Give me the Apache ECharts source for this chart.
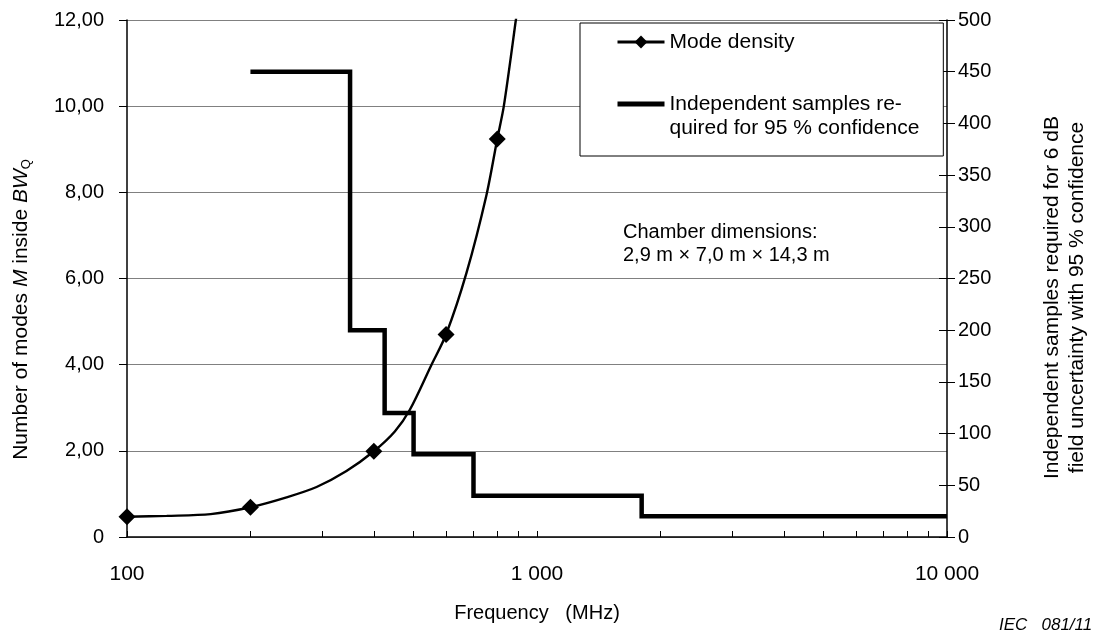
<!DOCTYPE html>
<html><head><meta charset="utf-8">
<script src="https://cdn.jsdelivr.net/npm/echarts@6/dist/echarts.min.js"></script>
<style>html,body{margin:0;padding:0;background:#fff}#c{width:1094px;height:633px}</style>
</head><body><div id="c"></div>
<script>
// ---- data ----
const modeFreq  = [100, 125, 160, 200, 245, 290, 343, 400, 450, 490, 553, 600, 673, 753, 800, 830, 888, 905];
const modeValue = [0.47, 0.49, 0.53, 0.69, 0.92, 1.16, 1.53, 1.99, 2.45, 2.96, 4.0, 4.70, 6.13, 7.94, 9.24, 10.0, 12.0, 12.6];
const markerFreq = [100, 200, 400, 600, 800];
const stepFreq  = [200, 350, 425, 500, 700, 1800, 10000];
const stepValue = [450, 200, 120, 80, 40, 20, 20];
const xTickLabels = {100: '100', 1000: '1 000', 10000: '10 000'};
const seriesNames = ['Mode density', 'Independent samples re-\nquired for 95 % confidence'];
const noteLines = ['Chamber dimensions:', '2,9 m \u00d7 7,0 m \u00d7 14,3 m'];

const FF = '"Liberation Sans", Arial, sans-serif';
const chart = echarts.init(document.getElementById('c'), null, {renderer: 'canvas'});

const modeData = modeFreq.map((f, i) => markerFreq.includes(f)
  ? [f, modeValue[i]]
  : {value: [f, modeValue[i]], symbol: 'none'});
const stepData = stepFreq.map((f, i) => [f, stepValue[i]]);

const option = {
  animation: false,
  backgroundColor: '#fff',
  textStyle: {fontFamily: FF, color: '#000'},
  grid: {left: 127, right: 147, top: 20, bottom: 96, containLabel: false, outerBoundsMode: 'none'},
  xAxis: {
    type: 'log', logBase: 10, min: 100, max: 10000,
    name: 'Frequency   (MHz)', nameLocation: 'middle', nameGap: 66,
    nameTextStyle: {fontFamily: FF, fontSize: 20, color: '#000'},
    axisLine: {show: true, lineStyle: {color: '#000', width: 1.5}},
    axisTick: {show: true, inside: true, length: 6, lineStyle: {color: '#000', width: 1}},
    minorTick: {show: true, splitNumber: 9, length: 6, lineStyle: {color: '#000', width: 1}},
    axisLabel: {margin: 27, fontFamily: FF, fontSize: 21, color: '#000',
      formatter: v => xTickLabels[Math.round(v)] || ''},
    splitLine: {show: false}, minorSplitLine: {show: false}
  },
  yAxis: [
    {
      type: 'value', position: 'left', min: 0, max: 12, interval: 2,
      name: 'Number of modes {i|M} inside {i|BW}{s|Q}', nameLocation: 'middle', nameGap: 94, nameRotate: 90,
      nameTextStyle: {fontFamily: FF, fontSize: 21, color: '#000', lineHeight: 24, padding: [0, 62, 0, 0],
        rich: {
          i: {fontFamily: FF, fontSize: 21, fontStyle: 'italic', color: '#000', lineHeight: 24},
          s: {fontFamily: FF, fontSize: 13, color: '#000', verticalAlign: 'bottom', lineHeight: 18}
        }},
      axisLine: {show: true, lineStyle: {color: '#000', width: 1.5}},
      axisTick: {show: true, inside: false, length: 8, lineStyle: {color: '#000'}},
      axisLabel: {margin: 23, fontFamily: FF, fontSize: 20, color: '#000',
        formatter: v => v === 0 ? '0' : v.toFixed(2).replace('.', ',')},
      splitLine: {show: true, lineStyle: {color: '#808080', width: 1.2}}
    },
    {
      type: 'value', position: 'right', min: 0, max: 500, interval: 50,
      name: 'Independent samples required for 6 dB\nfield uncertainty with 95 % confidence',
      nameLocation: 'middle', nameGap: 93, nameRotate: 90,
      nameTextStyle: {fontFamily: FF, fontSize: 21, color: '#000', lineHeight: 25, align: 'center',
        padding: [0, 38, 0, 0]},
      axisLine: {show: true, lineStyle: {color: '#000', width: 1.5}},
      axisTick: {show: true, inside: false, length: 8, lineStyle: {color: '#000'}},
      axisLabel: {margin: 11, fontFamily: FF, fontSize: 20, color: '#000'},
      splitLine: {show: false}
    },
    {
      type: 'value', position: 'right', min: 0, max: 500, interval: 50,
      axisLine: {show: false},
      axisTick: {show: true, inside: true, length: 8, lineStyle: {color: '#000'}},
      axisLabel: {show: false},
      splitLine: {show: false}
    }
  ],
  legend: {
    orient: 'vertical', left: 580, top: 23,
    padding: [7, 24, 16, 36],
    itemGap: 14, itemWidth: 47, itemHeight: 16,
    borderColor: '#000', borderWidth: 1, backgroundColor: '#fff',
    textStyle: {fontFamily: FF, fontSize: 21, color: '#000', lineHeight: 24},
    formatter: name => name === seriesNames[1] ? '\n' + name : name,
    data: [
      {name: seriesNames[0], lineStyle: {width: 3}},
      {name: seriesNames[1], icon: 'path://M0,0h0.01v0.01h-0.01z M0,5.5h47v5h-47z M0,16h0.01v-0.01h-0.01z',
        itemStyle: {color: '#000', borderWidth: 0}}
    ]
  },
  series: [
    {
      name: seriesNames[0], type: 'line', xAxisIndex: 0, yAxisIndex: 0,
      smooth: 0.3, symbol: 'diamond', symbolSize: 17, clip: true, z: 3,
      lineStyle: {color: '#000', width: 2.4}, itemStyle: {color: '#000'},
      data: modeData
    },
    {
      name: seriesNames[1], type: 'line', xAxisIndex: 0, yAxisIndex: 1,
      step: 'end', symbol: 'none', z: 2,
      lineStyle: {color: '#000', width: 4.5, join: 'miter'}, itemStyle: {color: '#000'},
      data: stepData
    }
  ],
  graphic: [
    {type: 'text', left: 623, top: 221, z: 10,
      style: {text: noteLines.join('\n'), font: '20px ' + FF, lineHeight: 23, fill: '#000'}},
    {type: 'text', left: 999, top: 617, z: 10,
      style: {text: 'IEC   081/11', font: 'italic 17px ' + FF, fill: '#000'}}
  ]
};
chart.setOption(option);
</script>
</body></html>
